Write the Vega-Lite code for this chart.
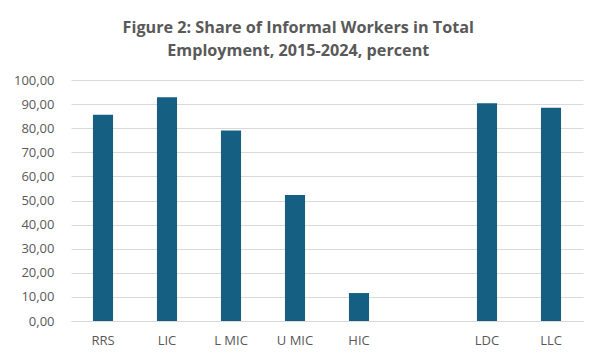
{
  "$schema": "https://vega.github.io/schema/vega-lite/v6.json",
  "autosize": {"type": "fit", "contains": "padding"},
  "width": 602,
  "height": 362,
  "padding": {"left": 13, "right": 19, "top": 19, "bottom": 15},
  "background": "white",
  "config": {
    "locale": {"number": {"decimal": ",", "thousands": ".", "grouping": [3], "currency": ["", ""]}},
    "view": {"stroke": null},
    "font": "Open Sans"
  },
  "title": {
    "text": ["Figure 2: Share of Informal Workers in Total", "Employment, 2015-2024, percent"],
    "fontSize": 16.2,
    "fontWeight": "bold",
    "color": "#595959",
    "font": "Open Sans",
    "lineHeight": 23,
    "offset": 15,
    "anchor": "middle",
    "frame": "bounds"
  },
  "data": {
    "values": [
      {"group": "RRS", "share": 85.6},
      {"group": "LIC", "share": 92.8},
      {"group": "L MIC", "share": 79.0},
      {"group": "U MIC", "share": 52.3},
      {"group": "HIC", "share": 11.6},
      {"group": "LDC", "share": 90.4},
      {"group": "LLC", "share": 88.5}
    ]
  },
  "mark": {"type": "bar", "color": "#156082"},
  "encoding": {
    "x": {
      "field": "group",
      "type": "nominal",
      "sort": null,
      "scale": {"domain": ["RRS", "LIC", "L MIC", "U MIC", "HIC", " ", "LDC", "LLC"], "paddingInner": 0.686, "paddingOuter": 0.343},
      "axis": {
        "title": null,
        "labelAngle": 0,
        "ticks": false,
        "labelFontSize": 13,
        "labelColor": "#595959",
        "labelPadding": 13,
        "domainColor": "#d9d9d9",
        "labelFont": "Open Sans"
      }
    },
    "y": {
      "field": "share",
      "type": "quantitative",
      "scale": {"domain": [0, 100]},
      "axis": {
        "title": null,
        "values": [0, 10, 20, 30, 40, 50, 60, 70, 80, 90, 100],
        "format": ".2f",
        "ticks": false,
        "domain": false,
        "gridColor": "#d9d9d9",
        "labelFontSize": 13,
        "labelColor": "#595959",
        "labelPadding": 17,
        "labelFont": "Open Sans"
      }
    }
  }
}
